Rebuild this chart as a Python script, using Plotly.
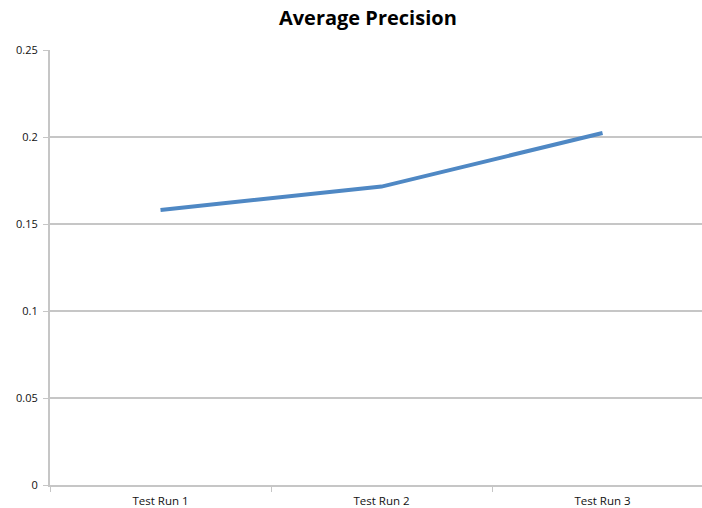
import plotly.graph_objects as go

categories = ["Test Run 1", "Test Run 2", "Test Run 3"]
avg_precision = [0.1581, 0.1715, 0.2023]
y_ticks = [0, 0.05, 0.1, 0.15, 0.2, 0.25]
y_tick_labels = ["0", "0.05", "0.1", "0.15", "0.2", "0.25"]

fig = go.Figure()
fig.add_trace(go.Scatter(
    x=categories, y=avg_precision, mode="lines",
    line=dict(color="#4f88c4", width=4),
    showlegend=False, hoverinfo="skip",
))

grid = "#c6c6c6"
fig.update_layout(
    width=702, height=508,
    margin=dict(l=50, r=0, t=50, b=23),
    paper_bgcolor="white", plot_bgcolor="white",
    title=dict(text="<b>Average Precision</b>", x=0.524, xanchor="center",
               y=0.964, yanchor="middle",
               font=dict(family="Open Sans", size=20, color="black")),
    font=dict(family="Open Sans", size=11, color="#111"),
    xaxis=dict(
        type="category", range=[-0.5, 2.45],
        showgrid=False, showline=True, linecolor=grid, linewidth=2,
        ticks="outside", tickson="boundaries", ticklen=5, tickcolor=grid, tickwidth=1,
        tickfont=dict(size=11.5, color="#111"), ticklabelstandoff=4,
        fixedrange=True,
    ),
    yaxis=dict(
        range=[0, 0.25], tickvals=y_ticks, ticktext=y_tick_labels,
        showgrid=True, gridcolor=grid, gridwidth=2,
        showline=True, linecolor=grid, linewidth=2,
        ticks="outside", ticklen=5, tickcolor=grid, tickwidth=1,
        zeroline=False,
        tickfont=dict(size=11, color="#111"), ticklabelstandoff=3,
        fixedrange=True,
    ),
)

fig.write_html(
    "out.html",
    config={"displayModeBar": False},
    post_script="document.body.style.margin='0';document.body.style.overflow='hidden';",
)
